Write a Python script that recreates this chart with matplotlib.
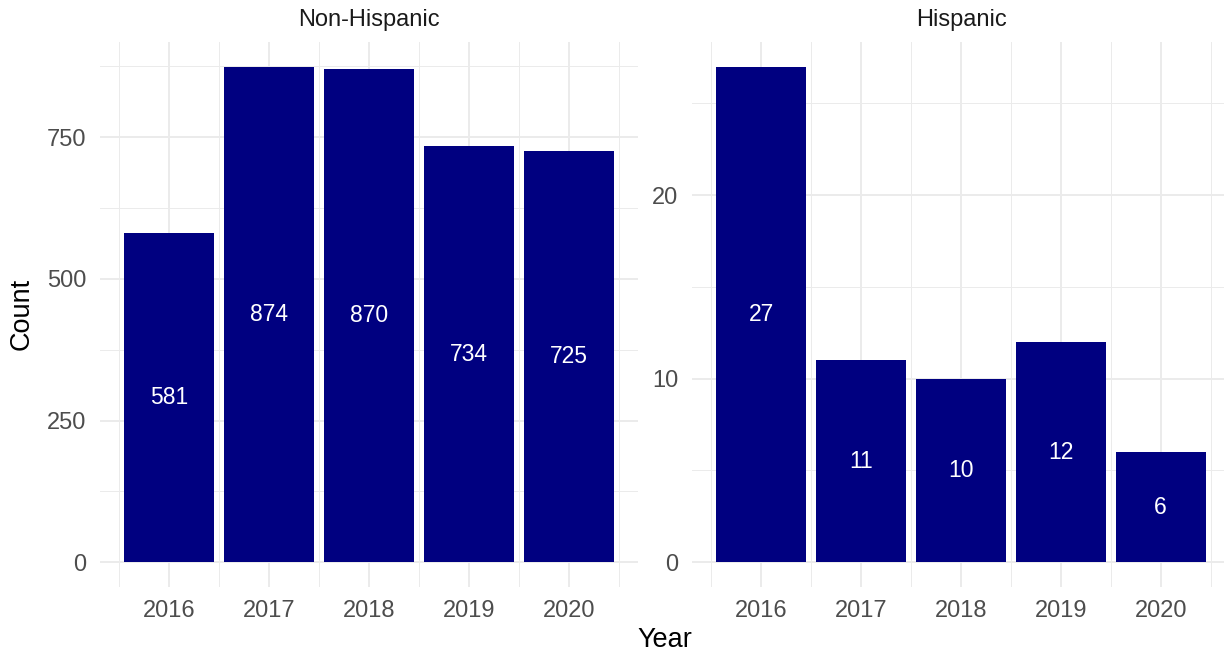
import numpy as np
import matplotlib
matplotlib.use("Agg")
import matplotlib.pyplot as plt
from matplotlib.ticker import MultipleLocator

plt.rcParams['font.family'] = ['Liberation Sans', 'DejaVu Sans']

years = [2016, 2017, 2018, 2019, 2020]
panels = ["Non-Hispanic", "Hispanic"]
non_hispanic = [581, 874, 870, 734, 725]
hispanic = [27, 11, 10, 12, 6]
counts = [non_hispanic, hispanic]
y_major = [250, 10]

W, H = 1224, 658
fig = plt.figure(figsize=(W / 100, H / 100), dpi=100)

# panel boxes in pixels (left, right), shared top/bottom
boxes = [(100, 638), (692, 1230)]
top, bottom = 42, 587

grid_col = "#EBEBEB"
bar_col = "#000080"
tick_col = "#4D4D4D"

for (x0, x1), name, vals, step in zip(boxes, panels, counts, y_major):
    ax = fig.add_axes([x0 / W, 1 - bottom / H, (x1 - x0) / W, (bottom - top) / H])
    ax.bar(years, vals, width=0.9, color=bar_col, zorder=3)
    for yr, v in zip(years, vals):
        ax.text(yr, v / 2, str(v), color="white", ha="center", va="center",
                fontsize=16.5, zorder=4)

    xmin, xmax = years[0] - 0.45, years[-1] + 0.45
    xpad = (xmax - xmin) * 0.05
    ax.set_xlim(xmin - xpad, xmax + xpad)
    ymax = max(vals)
    ax.set_ylim(-ymax * 0.05, ymax * 1.05)

    ax.set_xticks(years)
    ax.set_xticks([y + 0.5 for y in [years[0] - 1] + years], minor=True)
    ax.yaxis.set_major_locator(MultipleLocator(step))
    ax.yaxis.set_minor_locator(MultipleLocator(step / 2))

    ax.grid(True, which="major", color=grid_col, linewidth=1.4, zorder=0)
    ax.grid(True, which="minor", color=grid_col, linewidth=0.7, zorder=0)
    for s in ax.spines.values():
        s.set_visible(False)
    ax.tick_params(which="both", length=0)
    ax.tick_params(axis="x", pad=9.5, labelsize=17, labelcolor=tick_col)
    ax.tick_params(axis="y", pad=10, labelsize=17, labelcolor=tick_col)

    fig.text((x0 + x1) / 2 / W, 1 - 20 / H, name, ha="center", va="center",
             fontsize=17, color="#1A1A1A")

fig.text(22 / W, 1 - 314 / H, "Count", rotation=90, ha="center", va="center",
         fontsize=19.5, color="black")
fig.text(665 / W, 1 - 640 / H, "Year", ha="center", va="center",
         fontsize=19.5, color="black")

fig.savefig("out.png", dpi=100, facecolor="white")
